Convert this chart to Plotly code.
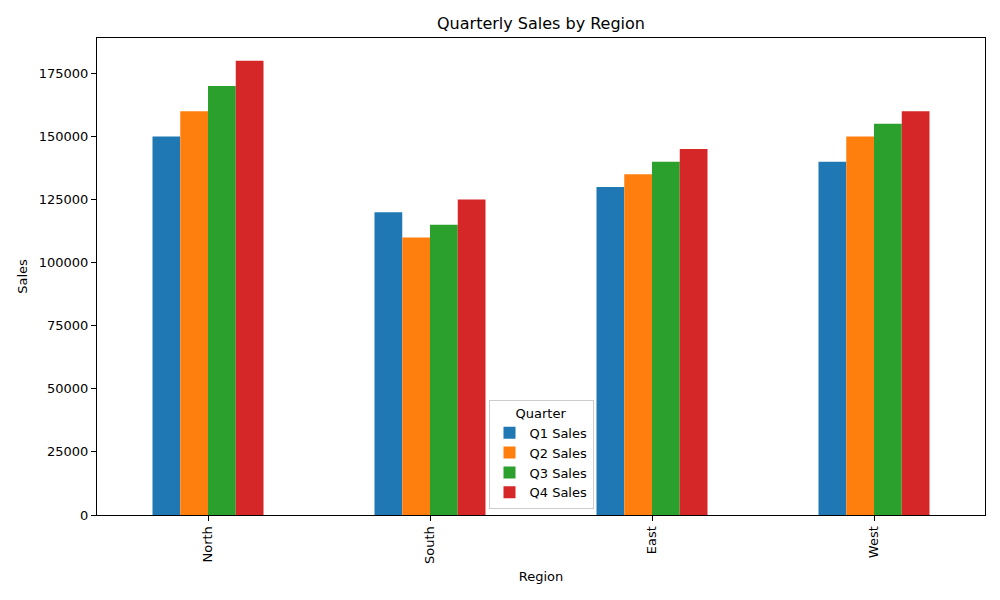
import plotly.graph_objects as go

# data
regions = ['North', 'South', 'East', 'West']
quarters = ['Q1 Sales', 'Q2 Sales', 'Q3 Sales', 'Q4 Sales']
q1_sales = [150000, 120000, 130000, 140000]
q2_sales = [160000, 110000, 135000, 150000]
q3_sales = [170000, 115000, 140000, 155000]
q4_sales = [180000, 125000, 145000, 160000]
y_ticks = [0, 25000, 50000, 75000, 100000, 125000, 150000, 175000]

series = [q1_sales, q2_sales, q3_sales, q4_sales]
colors = ['#1f77b4', '#ff7f0e', '#2ca02c', '#d62728']

fig = go.Figure()
for name, vals, col in zip(quarters, series, colors):
    fig.add_trace(go.Bar(x=regions, y=vals, name=name,
                         marker=dict(color=col, line=dict(width=0))))

font = dict(family='DejaVu Sans', size=13, color='black')

# page body has an 8px margin, so the figure is a bit smaller than the window
fig.update_layout(
    width=992, height=592,
    barmode='group', bargap=0.5, bargroupgap=0,
    plot_bgcolor='white', paper_bgcolor='white',
    margin=dict(l=89, r=15, t=30, b=85),
    font=font,
    title=dict(text='Quarterly Sales by Region', x=0.5, xref='paper',
               y=15 / 592, yref='container', yanchor='middle',
               font=dict(family='DejaVu Sans', size=16, color='black')),
    legend=dict(title=dict(text='Quarter', side='top center',
                           font=dict(family='DejaVu Sans', size=13)),
                x=0.5, xanchor='center', y=0.013, yanchor='bottom',
                bgcolor='rgba(255,255,255,0.8)', bordercolor='#cccccc', borderwidth=1,
                font=dict(family='DejaVu Sans', size=13)),
)
fig.update_layout(title_y=1 - 15 / 592)

fig.update_xaxes(title=dict(text='Region', standoff=8, font=font), tickangle=-90,
                 range=[-0.5, 3.5], showline=True, linecolor='black', mirror=True,
                 ticks='outside', ticklen=5, tickcolor='black', showgrid=False)
fig.update_yaxes(title=dict(text='Sales', standoff=8, font=font), range=[0, 189000],
                 tickvals=y_ticks, ticktext=[str(v) for v in y_ticks],
                 showline=True, linecolor='black', mirror=True,
                 ticks='outside', ticklen=5, tickcolor='black',
                 showgrid=False, zeroline=False)

fig.write_html('out.html')
